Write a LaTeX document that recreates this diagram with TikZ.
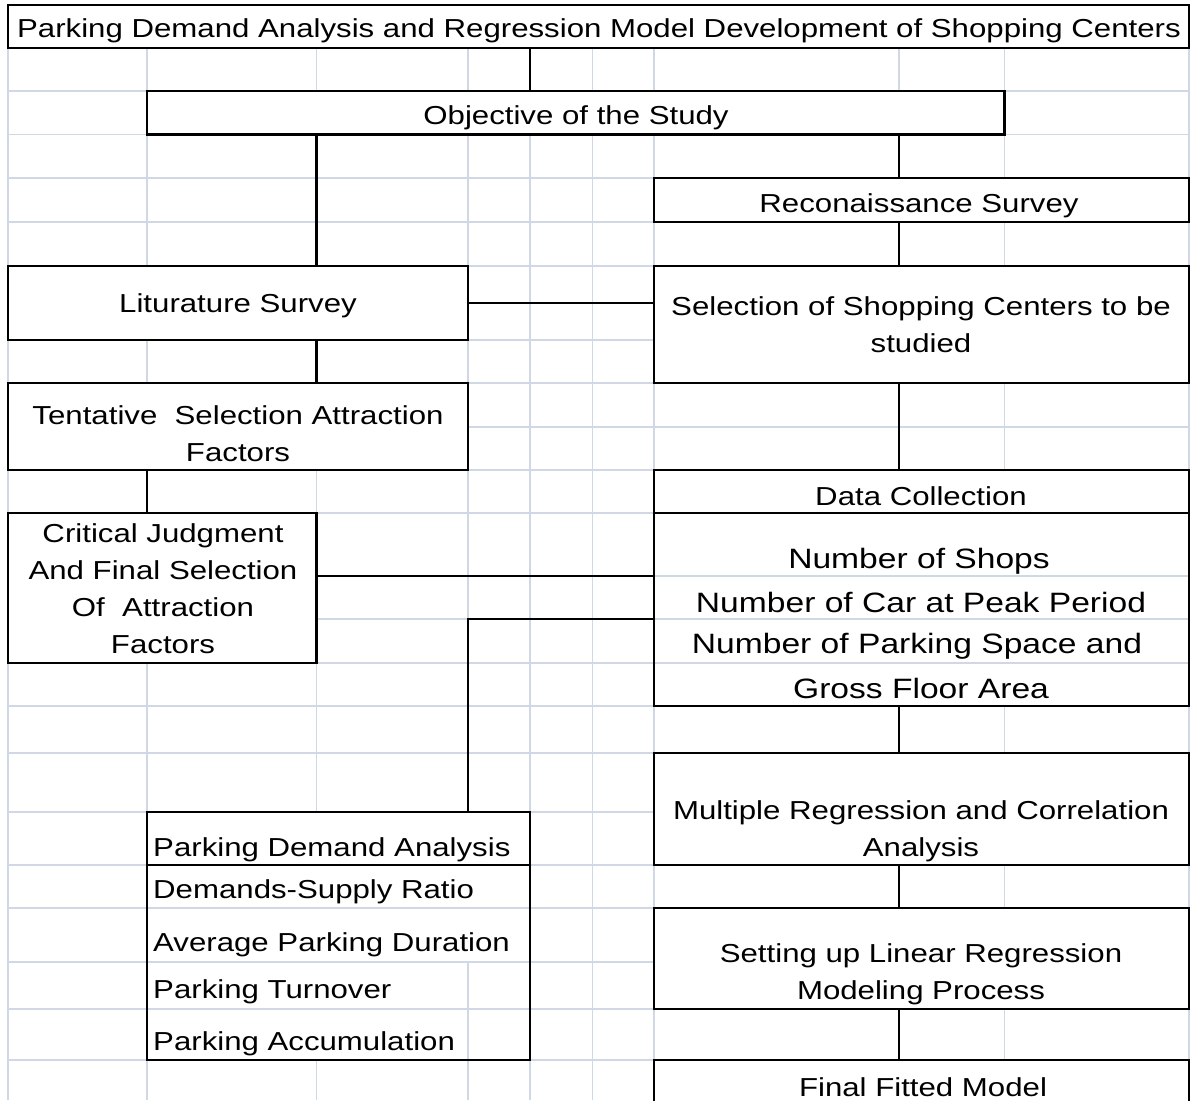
\documentclass[tikz,border=0pt]{standalone}
\usepackage{fontspec}
\setmainfont{Liberation Sans}
\usepackage{graphicx}
\newcommand\sx[1]{\scalebox{1.2}[1]{#1}}
\definecolor{gridc}{RGB}{208,215,229}
\begin{document}
\begin{tikzpicture}[x=1pt,y=-1pt,
  gridline/.style={draw=gridc,line width=1.8pt},
  blk/.style={draw=black,line width=2.2pt},
  box/.style={draw=black,line width=2.2pt,fill=white,inner sep=0pt,outer sep=0pt,rectangle},
  txt/.style={inner sep=0pt,align=center,font=\fontsize{26}{37}\selectfont},
  big/.style={inner sep=0pt,align=center,font=\fontsize{28}{37}\selectfont},
  lft/.style={inner sep=0pt,anchor=west,font=\fontsize{26}{37}\selectfont}]
\useasboundingbox (0,0) rectangle (1190,1100);
\fill[white] (0,0) rectangle (1190,1100);
% spreadsheet grid
\foreach \x in {8,146.6,316.5,467.7,530,592.4,654.3,899,1004.5,1189}
  \draw[gridline] (\x,48.3) -- (\x,1100);
\foreach \y in {48.3,91,134.5,178.3,221.7,265.7,339.7,383.3,426.7,470,513.3,576,619,662.7,706,753.3,812.3,865,908.3,961.7,1009.3,1060}
  \draw[gridline] (8,\y) -- (1189,\y);
% helper coordinates
\coordinate (c530) at (530,0);
\coordinate (c316) at (316.5,0);
\coordinate (c899) at (899,0);
\coordinate (c147) at (146.6,0);
\coordinate (c468) at (467.7,0);
\coordinate (r576) at (0,576);
\coordinate (r619) at (0,619);
\coordinate (r663) at (0,662.7);
\coordinate (r908) at (0,908.3);
\coordinate (r962) at (0,961.7);
\coordinate (r1009) at (0,1009.3);
% boxes
\node[box,minimum width=1181pt,minimum height=43.6pt] (title) at (598.5,26.5) {};
\node[box,minimum width=857.9pt,minimum height=43.5pt] (obj) at (575.55,112.75) {};
\node[box,minimum width=534.7pt,minimum height=43.4pt] (recon) at (921.65,200) {};
\node[box,minimum width=534.7pt,minimum height=117.6pt] (sel) at (921.65,324.5) {};
\node[box,minimum width=459.7pt,minimum height=74pt] (lit) at (237.85,302.7) {};
\node[box,minimum width=459.7pt,minimum height=86.7pt] (tent) at (237.85,426.65) {};
\node[box,minimum width=308.5pt,minimum height=149.4pt] (crit) at (162.25,588) {};
\node[box,minimum width=534.7pt,minimum height=43.3pt] (dhead) at (921.65,491.65) {};
\node[box,minimum width=534.7pt,minimum height=192.7pt,
  path picture={\foreach \r in {r576,r619,r663}
    \draw[gridline] (path picture bounding box.west |- \r) -- (path picture bounding box.east |- \r);}] (dbody) at (921.65,609.65) {};
\node[box,minimum width=534.7pt,minimum height=111.7pt] (mr) at (921.65,809.15) {};
\node[box,minimum width=534.7pt,minimum height=101pt] (setup) at (921.65,958.8) {};
\node[box,minimum width=534.7pt,minimum height=60pt] (final) at (921.65,1090) {};
\node[box,minimum width=383.4pt,minimum height=52.7pt] (pdah) at (338.3,838.65) {};
\node[box,minimum width=383.4pt,minimum height=195pt,
  path picture={\foreach \r in {r908,r962,r1009}
    \draw[gridline] (path picture bounding box.west |- \r) -- (path picture bounding box.east |- \r);
    \draw[gridline] (c468 |- r962) -- (c468 |- path picture bounding box.south);}] (pdab) at (338.3,962.5) {};
% connectors
\draw[blk] (title.south -| c530) -- (obj.north -| c530);
\draw[blk] (obj.south -| c316) -- (lit.north -| c316);
\draw[blk] (obj.south -| c899) -- (recon.north -| c899);
\draw[blk] (recon.south -| c899) -- (sel.north -| c899);
\draw[blk] (lit.east) -- (sel.west |- lit.east);
\draw[blk] (lit.south -| c316) -- (tent.north -| c316);
\draw[blk] (tent.south -| c147) -- (crit.north -| c147);
\draw[blk] (crit.east |- r576) -- (dbody.west |- r576);
\draw[blk] (dbody.west |- r619) -- (c468 |- r619) -- (pdah.north -| c468);
\draw[blk] (sel.south -| c899) -- (dhead.north -| c899);
\draw[blk] (dbody.south -| c899) -- (mr.north -| c899);
\draw[blk] (mr.south -| c899) -- (setup.north -| c899);
\draw[blk] (setup.south -| c899) -- (final.north -| c899);
% texts
\node[txt] (ttitle) at (599,31) {\sx{Parking Demand Analysis and Regression Model Development of Shopping Centers}};
\node[txt] (tobj) at (576,118) {\sx{Objective of the Study}};
\node[txt] (trecon) at (919,206) {\sx{Reconaissance Survey}};
\node[txt] (tsel) at (921,325) {\sx{Selection of Shopping Centers to be}\\\sx{studied}};
\node[txt] (tlit) at (238,306) {\sx{Liturature Survey}};
\node[txt] (ttent) at (238,434) {\sx{Tentative~ Selection Attraction}\\\sx{Factors}};
\node[txt] (tcrit) at (163,589) {\sx{Critical Judgment}\\\sx{And Final Selection}\\\sx{Of~ Attraction}\\\sx{Factors}};
\node[txt] (tdhead) at (921,496) {\sx{Data Collection}};
\node[big] (td1) at (919,561) {\sx{Number of Shops}};
\node[big] (td2) at (921,602) {\sx{Number of Car at Peak Period}};
\node[big] (td3) at (917,646) {\sx{Number of Parking Space and}};
\node[big] (td4) at (921,688) {\sx{Gross Floor Area}};
\node[txt] (tmr) at (921,831) {\sx{Multiple Regression and Correlation}\\\sx{Analysis}};
\node[txt] (tsetup) at (921,974.5) {\sx{Setting up Linear Regression}\\\sx{Modeling Process}};
\node[txt] (tfinal) at (923,1087) {\sx{Final Fitted Model}};
\node[lft] (tp1) at (153,850) {\sx{Parking Demand Analysis}};
\node[lft] (tp2) at (153,892) {\sx{Demands-Supply Ratio}};
\node[lft] (tp3) at (153,945) {\sx{Average Parking Duration}};
\node[lft] (tp4) at (153,992) {\sx{Parking Turnover}};
\node[lft] (tp5) at (153,1044) {\sx{Parking Accumulation}};
\end{tikzpicture}
\end{document}
